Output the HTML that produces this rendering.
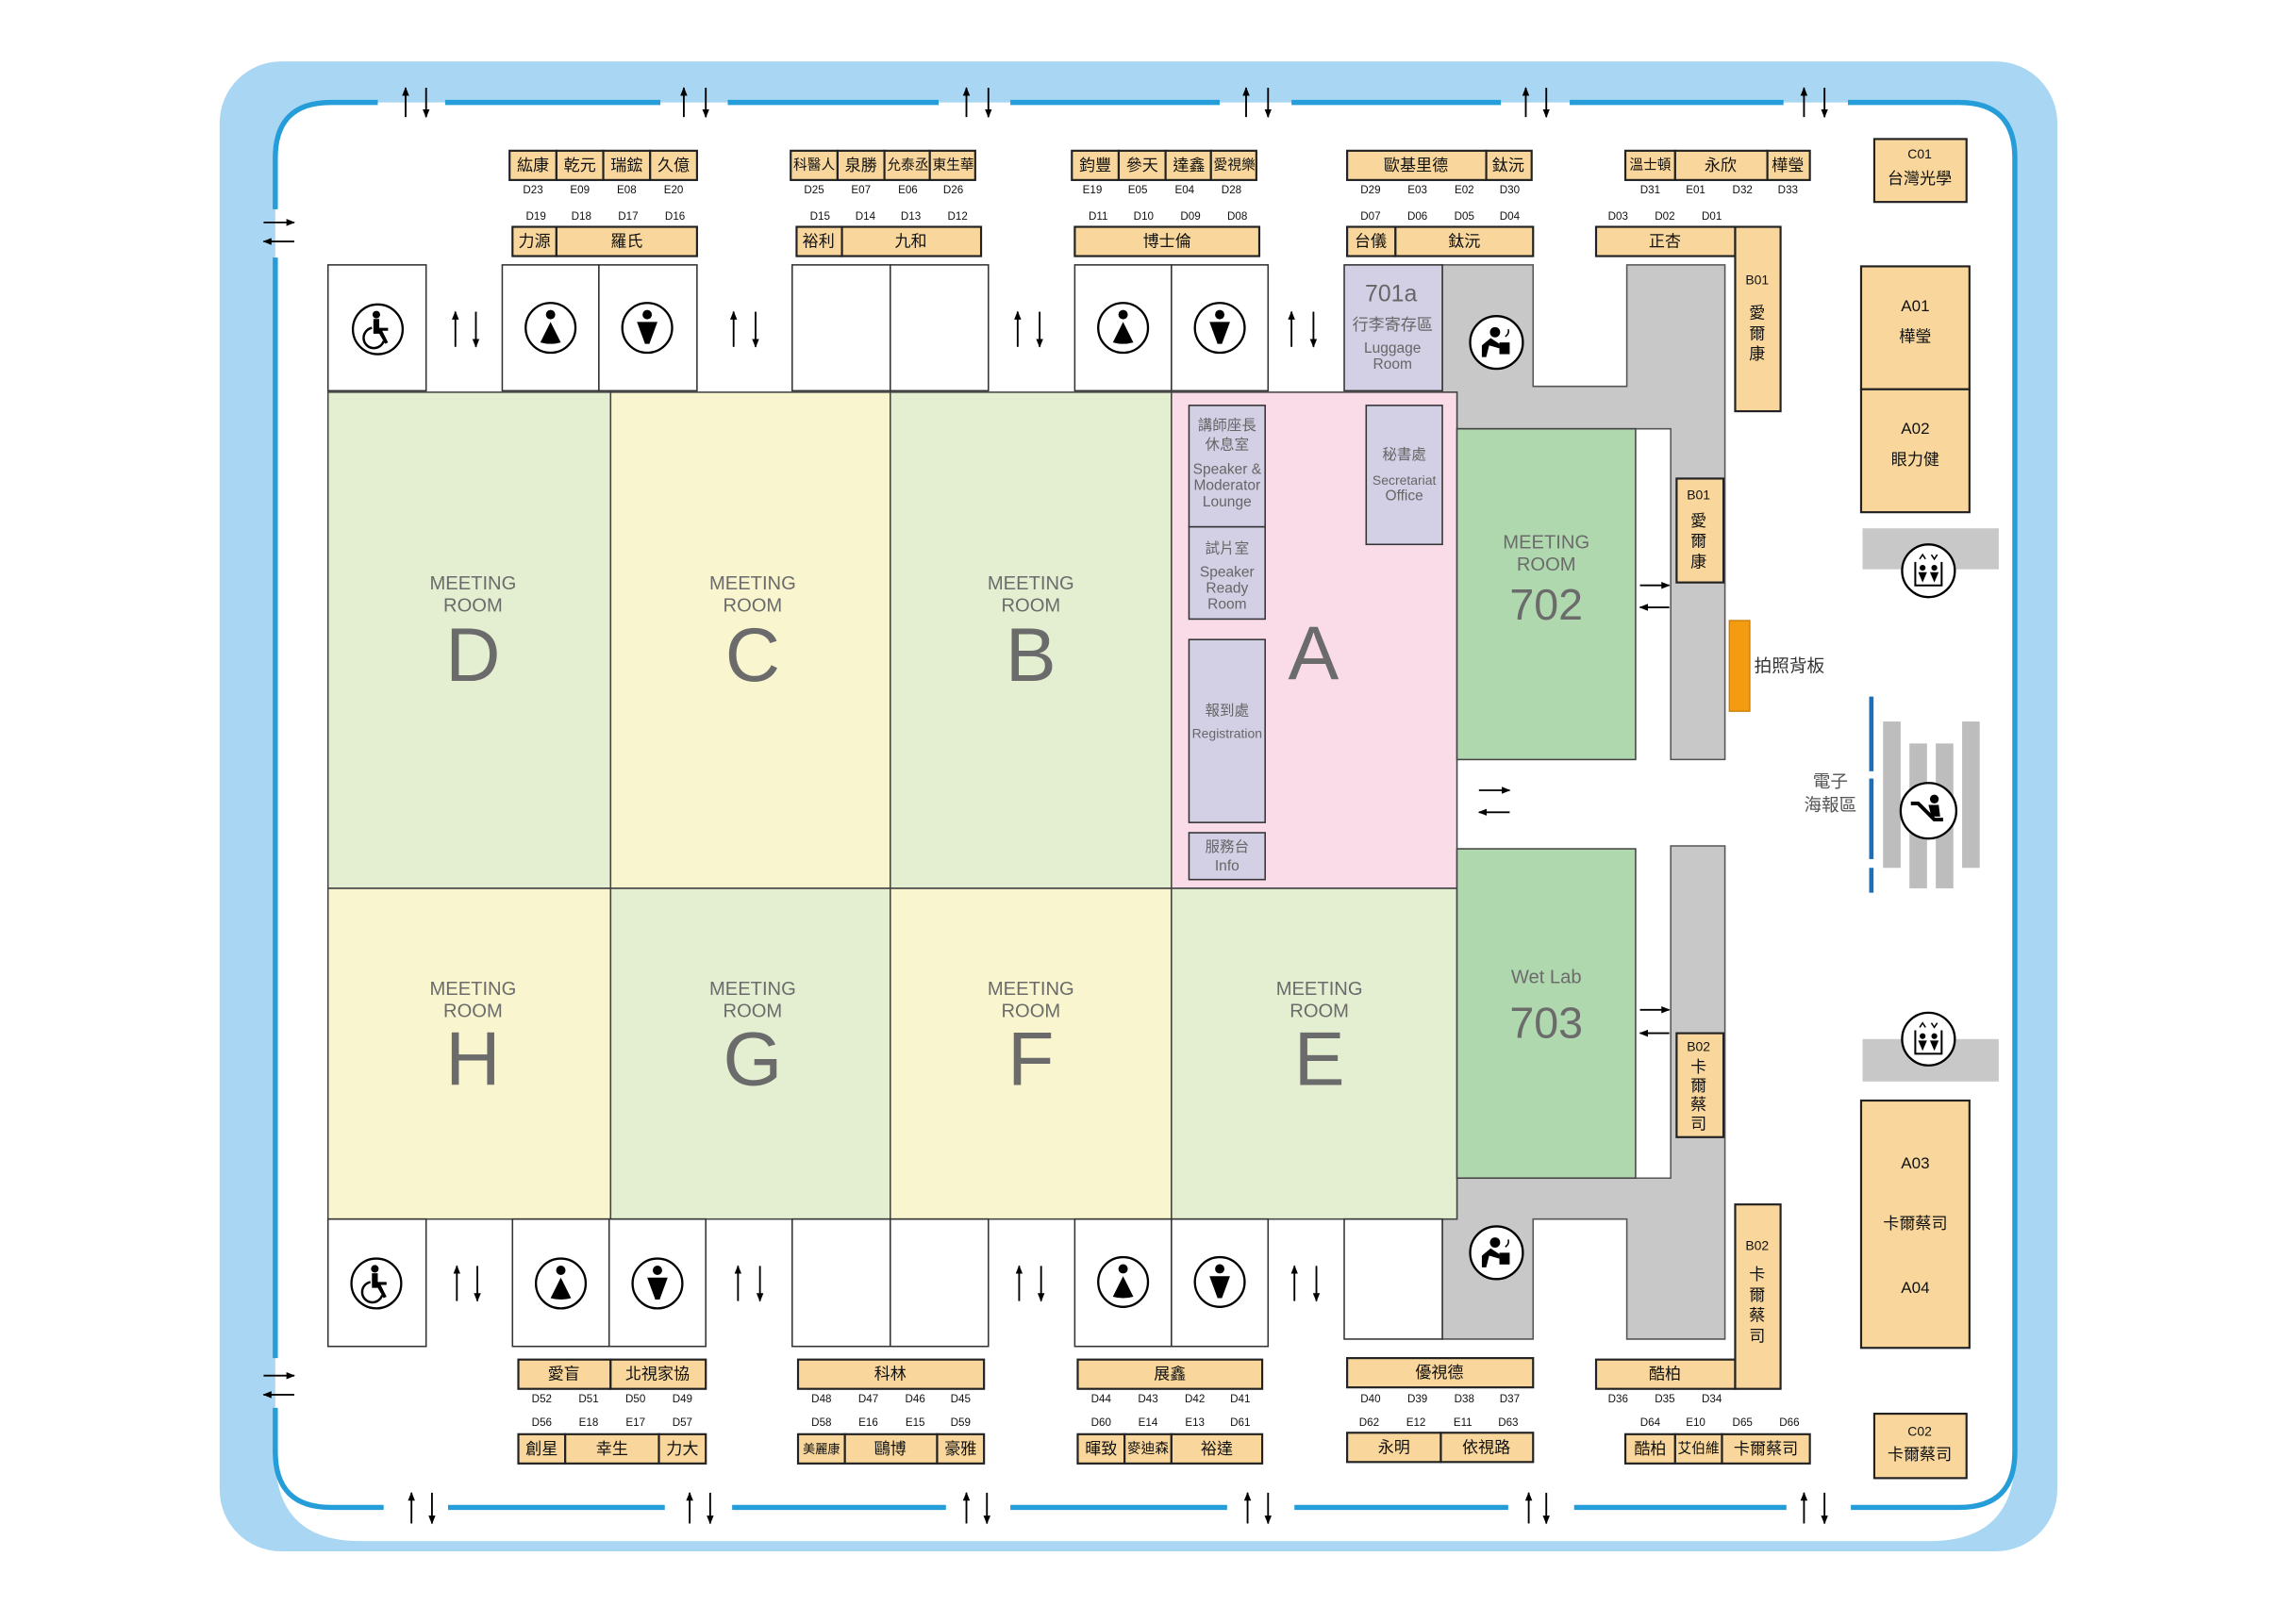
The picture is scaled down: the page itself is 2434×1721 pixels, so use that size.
<!DOCTYPE html>
<html><head><meta charset="utf-8"><style>
html,body{margin:0;padding:0;background:#fff;}
svg{display:block;}
text{font-family:"Liberation Sans","Noto Sans CJK TC",sans-serif;}
.b{fill:#f9d79c;stroke:#222;stroke-width:1.4;}
.bt{font-size:11px;fill:#111;text-anchor:middle;dominant-baseline:central;}
.bt3{font-size:9.5px;fill:#111;text-anchor:middle;dominant-baseline:central;}
.cd{font-size:7.5px;fill:#111;text-anchor:middle;dominant-baseline:central;}
.rm{stroke:#444;stroke-width:1;}
.mt{font-size:13px;fill:#6b6b6b;text-anchor:middle;dominant-baseline:central;}
.big{font-size:52px;fill:#6b6b6b;text-anchor:middle;dominant-baseline:central;}
.pu{fill:#d3cfe5;stroke:#333;stroke-width:1;}
.pt{font-size:10px;fill:#666;text-anchor:middle;dominant-baseline:central;}
.wb{fill:#fff;stroke:#333;stroke-width:1;}
.ar{stroke:#000;stroke-width:1.2;fill:none;marker-end:url(#ah);}
</style></head><body>
<svg xmlns="http://www.w3.org/2000/svg" width="2434" height="1721" viewBox="0 0 1568 1109" preserveAspectRatio="none">
<defs>
<marker id="ah" viewBox="0 0 10 10" refX="9" refY="5" markerWidth="5" markerHeight="5" orient="auto"><path d="M0,1 L10,5 L0,9 z" fill="#000"/></marker>
<g id="wm"><circle r="17" fill="#fff" stroke="#000" stroke-width="1.5"/><circle cy="-9" r="3.2"/><path d="M0,-4 L-7,10 Q0,12 7,10 Z"/></g>
<g id="mn"><circle r="17" fill="#fff" stroke="#000" stroke-width="1.5"/><circle cy="-9" r="3.2"/><path d="M-7,-4 L7,-4 L1.5,11 L-1.5,11 Z"/></g>
<g id="wc"><circle r="17" fill="#fff" stroke="#000" stroke-width="1.5"/><circle cx="-1" cy="-10" r="2.6"/><path d="M-3,-7 L1,-7 L1,-1 L7,-1 L7,1 L3,1 L7,9 L5,10 L1,3 L-3,3 Z"/><path d="M-4,-1 A7,7 0 1 0 4,8" fill="none" stroke="#000" stroke-width="1.6"/></g>
<g id="ft"><circle r="18" fill="#fff" stroke="#000" stroke-width="1.5"/><circle cx="-1" cy="-7" r="3.5"/><path d="M-10,2 L-4,-3 L2,1 L2,4 L-5,2 L-7,10 L-10,10 Z"/><rect x="2" y="0" width="7" height="8"/><path d="M6,-4 Q9,-6 8,-9" fill="none" stroke="#000"/></g>
<g id="el"><circle r="18" fill="#fff" stroke="#000" stroke-width="1.5"/><path d="M-9,-6 L-9,10 L9,10 L9,-6" fill="none" stroke="#000" stroke-width="1.3"/><circle cx="-4" cy="-2" r="2"/><circle cx="4" cy="-2" r="2"/><path d="M-7,1 L-1,1 L-4,8 Z M1,1 L7,1 L4,8 Z"/><path d="M-6,-8 L-4,-11 L-2,-8 M2,-11 L4,-8 L6,-11" fill="none" stroke="#000" stroke-width="1"/></g>
<g id="es"><circle r="19" fill="#fff" stroke="#000" stroke-width="1.5"/><path d="M-12,-5 L-7,-5 L4,6 L10,6" fill="none" stroke="#000" stroke-width="2.5"/><circle cx="4" cy="-8" r="3"/><path d="M0,-4 L7,-4 L8,4 L2,4 Z"/></g>
</defs>

<!-- frame -->
<rect x="150" y="42" width="1255" height="1018" rx="42" fill="#a9d7f3"/>
<path d="M188,108 Q188,70 226,70 L1338,70 Q1376,70 1376,108 L1376,995 Q1376,1053 1318,1053 L246,1053 Q188,1053 188,995 Z" fill="#fff"/>
<path fill="none" stroke="#259dd8" stroke-width="3.5" d="M188,143 L188,108 Q188,70 226,70 L258,70 M304,70 L451,70 M497,70 L641,70 M690,70 L833,70 M882,70 L1025,70 M1072,70 L1218,70 M1262,70 L1338,70 Q1376,70 1376,108 L1376,992 Q1376,1030 1338,1030 L1264,1030 M1220,1030 L1075,1030 M1030,1030 L884,1030 M838,1030 L690,1030 M646,1030 L500,1030 M454,1030 L306,1030 M262,1030 L226,1030 Q188,1030 188,992 L188,962 M188,928 L188,176"/>

<!-- frame arrows top -->
<g>
<line class="ar" x1="277" y1="80" x2="277" y2="60"/><line class="ar" x1="291" y1="60" x2="291" y2="80"/>
<line class="ar" x1="467" y1="80" x2="467" y2="60"/><line class="ar" x1="482" y1="60" x2="482" y2="80"/>
<line class="ar" x1="660" y1="80" x2="660" y2="60"/><line class="ar" x1="675" y1="60" x2="675" y2="80"/>
<line class="ar" x1="851" y1="80" x2="851" y2="60"/><line class="ar" x1="866" y1="60" x2="866" y2="80"/>
<line class="ar" x1="1042" y1="80" x2="1042" y2="60"/><line class="ar" x1="1056" y1="60" x2="1056" y2="80"/>
<line class="ar" x1="1232" y1="80" x2="1232" y2="60"/><line class="ar" x1="1246" y1="60" x2="1246" y2="80"/>
<!-- bottom -->
<line class="ar" x1="281" y1="1041" x2="281" y2="1020"/><line class="ar" x1="295" y1="1020" x2="295" y2="1041"/>
<line class="ar" x1="471" y1="1041" x2="471" y2="1020"/><line class="ar" x1="485" y1="1020" x2="485" y2="1041"/>
<line class="ar" x1="660" y1="1041" x2="660" y2="1020"/><line class="ar" x1="674" y1="1020" x2="674" y2="1041"/>
<line class="ar" x1="852" y1="1041" x2="852" y2="1020"/><line class="ar" x1="866" y1="1020" x2="866" y2="1041"/>
<line class="ar" x1="1044" y1="1041" x2="1044" y2="1020"/><line class="ar" x1="1056" y1="1020" x2="1056" y2="1041"/>
<line class="ar" x1="1232" y1="1041" x2="1232" y2="1020"/><line class="ar" x1="1246" y1="1020" x2="1246" y2="1041"/>
<!-- left -->
<line class="ar" x1="180" y1="152" x2="201" y2="152"/><line class="ar" x1="201" y1="165" x2="180" y2="165"/>
<line class="ar" x1="180" y1="940" x2="201" y2="940"/><line class="ar" x1="201" y1="953" x2="180" y2="953"/>
</g>

<!-- gray corridors -->
<path d="M985,181 L1047,181 L1047,264 L1111,264 L1111,181 L1178,181 L1178,519 L1141,519 L1141,293 L995,293 L995,268 L985,268 Z" fill="#c8c8c8" stroke="#555" stroke-width="1"/>
<path d="M1141,578 L1178,578 L1178,915 L1111,915 L1111,833 L1047,833 L1047,915 L985,915 L985,833 L995,833 L995,805 L1141,805 Z" fill="#c8c8c8" stroke="#555" stroke-width="1"/>

<!-- rooms -->
<rect class="rm" x="224" y="268" width="193" height="339" fill="#e4efd2"/>
<rect class="rm" x="417" y="268" width="191" height="339" fill="#f8f5cf"/>
<rect class="rm" x="608" y="268" width="192" height="339" fill="#e4efd2"/>
<rect x="800" y="268" width="195" height="339" fill="#f9dce8" stroke="#444" stroke-width="1"/>
<rect class="rm" x="224" y="607" width="193" height="226" fill="#f8f5cf"/>
<rect class="rm" x="417" y="607" width="191" height="226" fill="#e4efd2"/>
<rect class="rm" x="608" y="607" width="192" height="226" fill="#f8f5cf"/>
<rect class="rm" x="800" y="607" width="195" height="226" fill="#e4efd2"/>
<rect class="rm" x="995" y="293" width="122" height="226" fill="#b0d8ae"/>
<rect class="rm" x="995" y="580" width="122" height="225" fill="#b0d8ae"/>

<text class="mt" x="323" y="399">MEETING</text><text class="mt" x="323" y="414">ROOM</text><text class="big" x="323" y="448">D</text>
<text class="mt" x="514" y="399">MEETING</text><text class="mt" x="514" y="414">ROOM</text><text class="big" x="514" y="448">C</text>
<text class="mt" x="704" y="399">MEETING</text><text class="mt" x="704" y="414">ROOM</text><text class="big" x="704" y="448">B</text>
<text class="big" x="897" y="447">A</text>
<text class="mt" x="323" y="676">MEETING</text><text class="mt" x="323" y="691">ROOM</text><text class="big" x="323" y="724">H</text>
<text class="mt" x="514" y="676">MEETING</text><text class="mt" x="514" y="691">ROOM</text><text class="big" x="514" y="724">G</text>
<text class="mt" x="704" y="676">MEETING</text><text class="mt" x="704" y="691">ROOM</text><text class="big" x="704" y="724">F</text>
<text class="mt" x="901" y="676">MEETING</text><text class="mt" x="901" y="691">ROOM</text><text class="big" x="901" y="724">E</text>
<text class="mt" x="1056" y="371">MEETING</text><text class="mt" x="1056" y="386">ROOM</text><text class="big" x="1056" y="413" style="font-size:30px">702</text>
<text class="mt" x="1056" y="668">Wet Lab</text><text class="big" x="1056" y="699" style="font-size:30px">703</text>

<!-- A internals -->
<rect class="pu" x="812" y="277" width="52" height="83"/>
<text class="pt" x="838" y="291">講師座長</text><text class="pt" x="838" y="304">休息室</text>
<text class="pt" x="838" y="321">Speaker &amp;</text><text class="pt" x="838" y="332">Moderator</text><text class="pt" x="838" y="343">Lounge</text>
<rect class="pu" x="812" y="360" width="52" height="63"/>
<text class="pt" x="838" y="375">試片室</text><text class="pt" x="838" y="391">Speaker</text><text class="pt" x="838" y="402">Ready</text><text class="pt" x="838" y="413">Room</text>
<rect class="pu" x="812" y="437" width="52" height="125"/>
<text class="pt" x="838" y="486">報到處</text><text class="pt" x="838" y="501" style="font-size:9px">Registration</text>
<rect class="pu" x="812" y="569" width="52" height="32"/>
<text class="pt" x="838" y="579">服務台</text><text class="pt" x="838" y="592">Info</text>
<rect class="pu" x="933" y="277" width="52" height="95"/>
<text class="pt" x="959" y="311">秘書處</text><text class="pt" x="959" y="328" style="font-size:9px">Secretariat</text><text class="pt" x="959" y="339">Office</text>
<rect class="pu" x="918" y="181" width="67" height="86"/>
<text class="pt" x="950" y="201" style="font-size:16px">701a</text><text class="pt" x="951" y="222" style="font-size:11px">行李寄存區</text><text class="pt" x="951" y="238">Luggage</text><text class="pt" x="951" y="249">Room</text>

<!-- small rooms top -->
<rect class="wb" x="224" y="181" width="67" height="86"/>
<rect class="wb" x="343" y="181" width="66" height="86"/><rect class="wb" x="409" y="181" width="67" height="86"/>
<rect class="wb" x="541" y="181" width="67" height="86"/><rect class="wb" x="608" y="181" width="67" height="86"/>
<rect class="wb" x="734" y="181" width="66" height="86"/><rect class="wb" x="800" y="181" width="66" height="86"/>
<use href="#wc" x="258" y="225"/><use href="#wm" x="376" y="224"/><use href="#mn" x="442" y="224"/>
<use href="#wm" x="767" y="224"/><use href="#mn" x="833" y="224"/>
<!-- small rooms bottom -->
<rect class="wb" x="224" y="833" width="67" height="87"/>
<rect class="wb" x="350" y="833" width="66" height="87"/><rect class="wb" x="416" y="833" width="66" height="87"/>
<rect class="wb" x="541" y="833" width="67" height="87"/><rect class="wb" x="608" y="833" width="67" height="87"/>
<rect class="wb" x="734" y="833" width="66" height="87"/><rect class="wb" x="800" y="833" width="66" height="87"/>
<rect class="wb" x="918" y="833" width="67" height="82"/>
<use href="#wc" x="257" y="877"/><use href="#wm" x="383" y="877"/><use href="#mn" x="449" y="877"/>
<use href="#wm" x="767" y="876"/><use href="#mn" x="833" y="876"/>
<use href="#ft" x="1022" y="234"/><use href="#ft" x="1022" y="856"/>

<!-- interior arrows -->
<line class="ar" x1="311" y1="237" x2="311" y2="213"/><line class="ar" x1="325" y1="213" x2="325" y2="237"/>
<line class="ar" x1="501" y1="237" x2="501" y2="213"/><line class="ar" x1="516" y1="213" x2="516" y2="237"/>
<line class="ar" x1="695" y1="237" x2="695" y2="213"/><line class="ar" x1="710" y1="213" x2="710" y2="237"/>
<line class="ar" x1="882" y1="237" x2="882" y2="213"/><line class="ar" x1="897" y1="213" x2="897" y2="237"/>
<line class="ar" x1="312" y1="889" x2="312" y2="865"/><line class="ar" x1="326" y1="865" x2="326" y2="889"/>
<line class="ar" x1="504" y1="889" x2="504" y2="865"/><line class="ar" x1="519" y1="865" x2="519" y2="889"/>
<line class="ar" x1="696" y1="889" x2="696" y2="865"/><line class="ar" x1="711" y1="865" x2="711" y2="889"/>
<line class="ar" x1="884" y1="889" x2="884" y2="865"/><line class="ar" x1="899" y1="865" x2="899" y2="889"/>
<line class="ar" x1="1120" y1="400" x2="1140" y2="400"/><line class="ar" x1="1140" y1="415" x2="1120" y2="415"/>
<line class="ar" x1="1120" y1="690" x2="1140" y2="690"/><line class="ar" x1="1140" y1="706" x2="1120" y2="706"/>
<line class="ar" x1="1010" y1="540" x2="1031" y2="540"/><line class="ar" x1="1031" y1="555" x2="1010" y2="555"/>

<!-- TOP BOOTHS -->
<g>
<rect class="b" x="348" y="103" width="32" height="20"/><text class="bt" x="364" y="113">紘康</text>
<rect class="b" x="380" y="103" width="32" height="20"/><text class="bt" x="396" y="113">乾元</text>
<rect class="b" x="412" y="103" width="32" height="20"/><text class="bt" x="428" y="113">瑞鋐</text>
<rect class="b" x="444" y="103" width="32" height="20"/><text class="bt" x="460" y="113">久億</text>
<text class="cd" x="364" y="130">D23</text><text class="cd" x="396" y="130">E09</text><text class="cd" x="428" y="130">E08</text><text class="cd" x="460" y="130">E20</text>
<text class="cd" x="366" y="148">D19</text><text class="cd" x="397" y="148">D18</text><text class="cd" x="429" y="148">D17</text><text class="cd" x="461" y="148">D16</text>
<rect class="b" x="350" y="155" width="30" height="20"/><text class="bt" x="365" y="165">力源</text>
<rect class="b" x="380" y="155" width="96" height="20"/><text class="bt" x="428" y="165">羅氏</text>

<rect class="b" x="540" y="103" width="32" height="20"/><text class="bt3" x="556" y="113">科醫人</text>
<rect class="b" x="572" y="103" width="32" height="20"/><text class="bt" x="588" y="113">泉勝</text>
<rect class="b" x="604" y="103" width="31" height="20"/><text class="bt3" x="620" y="113">允泰丞</text>
<rect class="b" x="635" y="103" width="31" height="20"/><text class="bt3" x="651" y="113">東生華</text>
<text class="cd" x="556" y="130">D25</text><text class="cd" x="588" y="130">E07</text><text class="cd" x="620" y="130">E06</text><text class="cd" x="651" y="130">D26</text>
<text class="cd" x="560" y="148">D15</text><text class="cd" x="591" y="148">D14</text><text class="cd" x="622" y="148">D13</text><text class="cd" x="654" y="148">D12</text>
<rect class="b" x="544" y="155" width="31" height="20"/><text class="bt" x="559" y="165">裕利</text>
<rect class="b" x="575" y="155" width="95" height="20"/><text class="bt" x="622" y="165">九和</text>

<rect class="b" x="732" y="103" width="32" height="20"/><text class="bt" x="748" y="113">鈞豐</text>
<rect class="b" x="764" y="103" width="32" height="20"/><text class="bt" x="780" y="113">參天</text>
<rect class="b" x="796" y="103" width="31" height="20"/><text class="bt" x="812" y="113">達鑫</text>
<rect class="b" x="827" y="103" width="31" height="20"/><text class="bt3" x="843" y="113">愛視樂</text>
<text class="cd" x="746" y="130">E19</text><text class="cd" x="777" y="130">E05</text><text class="cd" x="809" y="130">E04</text><text class="cd" x="841" y="130">D28</text>
<text class="cd" x="750" y="148">D11</text><text class="cd" x="781" y="148">D10</text><text class="cd" x="813" y="148">D09</text><text class="cd" x="845" y="148">D08</text>
<rect class="b" x="734" y="155" width="126" height="20"/><text class="bt" x="797" y="165">博士倫</text>

<rect class="b" x="920" y="103" width="95" height="20"/><text class="bt" x="967" y="113">歐基里德</text>
<rect class="b" x="1015" y="103" width="31" height="20"/><text class="bt" x="1030" y="113">鈦沅</text>
<text class="cd" x="936" y="130">D29</text><text class="cd" x="968" y="130">E03</text><text class="cd" x="1000" y="130">E02</text><text class="cd" x="1031" y="130">D30</text>
<text class="cd" x="936" y="148">D07</text><text class="cd" x="968" y="148">D06</text><text class="cd" x="1000" y="148">D05</text><text class="cd" x="1031" y="148">D04</text>
<rect class="b" x="920" y="155" width="33" height="20"/><text class="bt" x="936" y="165">台儀</text>
<rect class="b" x="953" y="155" width="94" height="20"/><text class="bt" x="1000" y="165">鈦沅</text>

<rect class="b" x="1110" y="103" width="34" height="20"/><text class="bt3" x="1127" y="113">溫士頓</text>
<rect class="b" x="1144" y="103" width="63" height="20"/><text class="bt" x="1175" y="113">永欣</text>
<rect class="b" x="1207" y="103" width="29" height="20"/><text class="bt" x="1221" y="113">樺瑩</text>
<text class="cd" x="1127" y="130">D31</text><text class="cd" x="1158" y="130">E01</text><text class="cd" x="1190" y="130">D32</text><text class="cd" x="1221" y="130">D33</text>
<text class="cd" x="1105" y="148">D03</text><text class="cd" x="1137" y="148">D02</text><text class="cd" x="1169" y="148">D01</text>
<rect class="b" x="1090" y="155" width="95" height="20"/><text class="bt" x="1137" y="165">正杏</text>
<rect class="b" x="1185" y="155" width="31" height="126"/><text class="cd" x="1200" y="191" style="font-size:9px">B01</text>
<text class="bt" x="1200" y="214">愛</text><text class="bt" x="1200" y="228">爾</text><text class="bt" x="1200" y="242">康</text>
<rect class="b" x="1145" y="327" width="32" height="71"/><text class="cd" x="1160" y="338" style="font-size:9px">B01</text>
<text class="bt" x="1160" y="356">愛</text><text class="bt" x="1160" y="370">爾</text><text class="bt" x="1160" y="384">康</text>
</g>

<!-- BOTTOM BOOTHS -->
<g>
<rect class="b" x="354" y="929" width="63" height="20"/><text class="bt" x="385" y="939">愛盲</text>
<rect class="b" x="417" y="929" width="65" height="20"/><text class="bt" x="449" y="939">北視家協</text>
<text class="cd" x="370" y="956">D52</text><text class="cd" x="402" y="956">D51</text><text class="cd" x="434" y="956">D50</text><text class="cd" x="466" y="956">D49</text>
<text class="cd" x="370" y="972">D56</text><text class="cd" x="402" y="972">E18</text><text class="cd" x="434" y="972">E17</text><text class="cd" x="466" y="972">D57</text>
<rect class="b" x="354" y="980" width="32" height="20"/><text class="bt" x="370" y="990">創星</text>
<rect class="b" x="386" y="980" width="64" height="20"/><text class="bt" x="418" y="990">幸生</text>
<rect class="b" x="450" y="980" width="32" height="20"/><text class="bt" x="466" y="990">力大</text>

<rect class="b" x="545" y="929" width="127" height="20"/><text class="bt" x="608" y="939">科林</text>
<text class="cd" x="561" y="956">D48</text><text class="cd" x="593" y="956">D47</text><text class="cd" x="625" y="956">D46</text><text class="cd" x="656" y="956">D45</text>
<text class="cd" x="561" y="972">D58</text><text class="cd" x="593" y="972">E16</text><text class="cd" x="625" y="972">E15</text><text class="cd" x="656" y="972">D59</text>
<rect class="b" x="545" y="980" width="32" height="20"/><text class="bt3" x="561" y="990" style="font-size:8.5px">美麗康</text>
<rect class="b" x="577" y="980" width="63" height="20"/><text class="bt" x="608" y="990">鷗博</text>
<rect class="b" x="640" y="980" width="32" height="20"/><text class="bt" x="656" y="990">豪雅</text>

<rect class="b" x="736" y="929" width="126" height="20"/><text class="bt" x="799" y="939">展鑫</text>
<text class="cd" x="752" y="956">D44</text><text class="cd" x="784" y="956">D43</text><text class="cd" x="816" y="956">D42</text><text class="cd" x="847" y="956">D41</text>
<text class="cd" x="752" y="972">D60</text><text class="cd" x="784" y="972">E14</text><text class="cd" x="816" y="972">E13</text><text class="cd" x="847" y="972">D61</text>
<rect class="b" x="736" y="980" width="32" height="20"/><text class="bt" x="752" y="990">暉致</text>
<rect class="b" x="768" y="980" width="32" height="20"/><text class="bt3" x="784" y="990">麥迪森</text>
<rect class="b" x="800" y="980" width="62" height="20"/><text class="bt" x="831" y="990">裕達</text>

<rect class="b" x="920" y="928" width="127" height="20"/><text class="bt" x="983" y="938">優視德</text>
<text class="cd" x="936" y="956">D40</text><text class="cd" x="968" y="956">D39</text><text class="cd" x="1000" y="956">D38</text><text class="cd" x="1031" y="956">D37</text>
<text class="cd" x="935" y="972">D62</text><text class="cd" x="967" y="972">E12</text><text class="cd" x="999" y="972">E11</text><text class="cd" x="1030" y="972">D63</text>
<rect class="b" x="920" y="979" width="64" height="20"/><text class="bt" x="952" y="989">永明</text>
<rect class="b" x="984" y="979" width="63" height="20"/><text class="bt" x="1015" y="989">依視路</text>

<rect class="b" x="1090" y="929" width="95" height="20"/><text class="bt" x="1137" y="939">酷柏</text>
<rect class="b" x="1185" y="823" width="31" height="126"/><text class="cd" x="1200" y="851" style="font-size:9px">B02</text>
<text class="bt" x="1200" y="871">卡</text><text class="bt" x="1200" y="885">爾</text><text class="bt" x="1200" y="899">蔡</text><text class="bt" x="1200" y="913">司</text>
<text class="cd" x="1105" y="956">D36</text><text class="cd" x="1137" y="956">D35</text><text class="cd" x="1169" y="956">D34</text>
<text class="cd" x="1127" y="972">D64</text><text class="cd" x="1158" y="972">E10</text><text class="cd" x="1190" y="972">D65</text><text class="cd" x="1222" y="972">D66</text>
<rect class="b" x="1110" y="980" width="34" height="20"/><text class="bt" x="1127" y="990">酷柏</text>
<rect class="b" x="1144" y="980" width="32" height="20"/><text class="bt3" x="1160" y="990">艾伯維</text>
<rect class="b" x="1176" y="980" width="60" height="20"/><text class="bt" x="1206" y="990">卡爾蔡司</text>
<rect class="b" x="1145" y="706" width="32" height="71"/><text class="cd" x="1160" y="715" style="font-size:9px">B02</text>
<text class="bt" x="1160" y="729">卡</text><text class="bt" x="1160" y="742">爾</text><text class="bt" x="1160" y="755">蔡</text><text class="bt" x="1160" y="768">司</text>
</g>

<!-- photo backdrop -->
<rect x="1181" y="424" width="14" height="62" fill="#f39c12" stroke="#c77a00" stroke-width="0.8"/>
<text x="1198" y="455" style="font-size:12px;fill:#333;dominant-baseline:central">拍照背板</text>

<!-- right side -->
<rect class="b" x="1280" y="95" width="63" height="43"/><text class="cd" x="1311" y="105" style="font-size:9px">C01</text><text class="bt" x="1311" y="122">台灣光學</text>
<rect class="b" x="1271" y="182" width="74" height="84"/><text class="bt" x="1308" y="209">A01</text><text class="bt" x="1308" y="230">樺瑩</text>
<rect class="b" x="1271" y="266" width="74" height="84"/><text class="bt" x="1308" y="293">A02</text><text class="bt" x="1308" y="314">眼力健</text>
<rect x="1272" y="361" width="93" height="28" fill="#c8c8c8"/>
<use href="#el" x="1317" y="390"/>
<rect x="1276.5" y="476" width="3" height="51" fill="#1f6fb8"/>
<rect x="1276.5" y="532" width="3" height="55" fill="#1f6fb8"/>
<rect x="1276.5" y="593" width="3" height="17" fill="#1f6fb8"/>
<rect x="1286" y="493" width="12" height="100" fill="#bdbdbd"/>
<rect x="1304" y="508" width="12" height="99" fill="#bdbdbd"/>
<rect x="1322" y="508" width="12" height="99" fill="#bdbdbd"/>
<rect x="1340" y="493" width="12" height="100" fill="#bdbdbd"/>
<use href="#es" x="1317" y="554"/>
<text x="1250" y="534" style="font-size:12px;fill:#555;text-anchor:middle;dominant-baseline:central">電子</text>
<text x="1250" y="550" style="font-size:12px;fill:#555;text-anchor:middle;dominant-baseline:central">海報區</text>
<rect x="1272" y="710" width="93" height="29" fill="#c8c8c8"/>
<use href="#el" x="1317" y="710"/>
<rect class="b" x="1271" y="752" width="74" height="169"/>
<text class="bt" x="1308" y="795">A03</text><text class="bt" x="1308" y="836">卡爾蔡司</text><text class="bt" x="1308" y="880">A04</text>
<rect class="b" x="1280" y="966" width="63" height="44"/><text class="cd" x="1311" y="978" style="font-size:9px">C02</text><text class="bt" x="1311" y="994">卡爾蔡司</text>
</svg>
</body></html>
